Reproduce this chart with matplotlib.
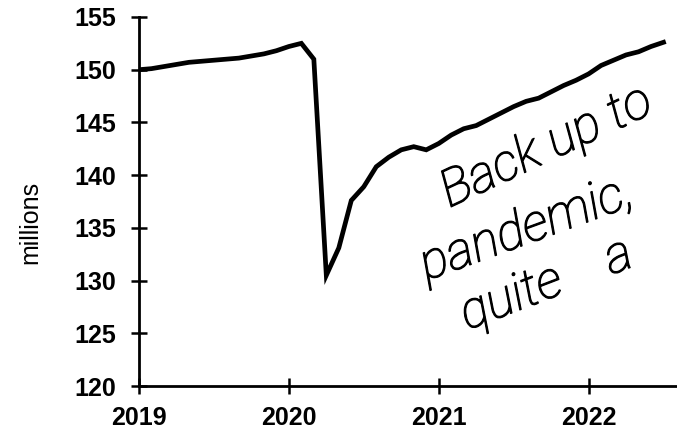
import numpy as np
import matplotlib
matplotlib.use('Agg')
import matplotlib.pyplot as plt
import matplotlib.patheffects as pe

# monthly employment, millions, Jan 2019 .. Jul 2022
start_year = 2019
employment = [150.0, 150.1, 150.3, 150.5, 150.7, 150.8, 150.9, 151.0, 151.1, 151.3, 151.5, 151.8,
              152.2, 152.5, 151.0, 130.5, 133.1, 137.6, 138.9, 140.8, 141.7, 142.4, 142.7, 142.4,
              143.0, 143.8, 144.4, 144.7, 145.3, 145.9, 146.5, 147.0, 147.3, 147.9, 148.5, 149.0,
              149.6, 150.4, 150.9, 151.4, 151.7, 152.2, 152.6]
year_ticks = [2019, 2020, 2021, 2022]
y_ticks = [120, 125, 130, 135, 140, 145, 150, 155]
note_lines = ['Back up to', 'pandemic,', 'quite    a']

months = start_year + np.arange(len(employment)) / 12.0

fig = plt.figure(figsize=(6.77, 4.30), dpi=100)
ax = fig.add_axes([0.2053, 0.1023, 0.7947, 0.8582])

ax.plot(months, employment, color='black', lw=3.4, solid_joinstyle='miter')

ax.set_xlim(2019, 2022.59)
ax.set_ylim(120, 155)
ax.set_xticks(year_ticks)
ax.set_yticks(y_ticks)

for s in ['top', 'right']:
    ax.spines[s].set_visible(False)
for s in ['left', 'bottom']:
    ax.spines[s].set_linewidth(2.0)

ax.tick_params(direction='inout', length=11, width=1.8, color='black')
ax.tick_params(axis='y', pad=11)
ax.tick_params(axis='x', pad=9)
for lab in ax.get_xticklabels() + ax.get_yticklabels():
    lab.set_fontfamily('Liberation Sans')
    lab.set_fontweight('bold')
    lab.set_fontsize(18)

ax.set_ylabel('millions', fontfamily='Liberation Sans', fontsize=18)
ax.yaxis.set_label_coords(-0.18, 0.444)

# handwritten note
hand = dict(fontfamily='Roboto', style='italic', fontweight='light', fontsize=37,
            color='black', ha='left', va='baseline', rotation_mode='anchor', clip_on=False,
            path_effects=[pe.withStroke(linewidth=0.9, foreground='black')])
ax.text(2021.07, 136.9, note_lines[0], rotation=25, **hand)
ax.text(2020.92, 130.0, note_lines[1], rotation=20, **hand)
ax.text(2021.19, 125.3, note_lines[2], rotation=21, **hand)

fig.savefig('out.png', dpi=100)
